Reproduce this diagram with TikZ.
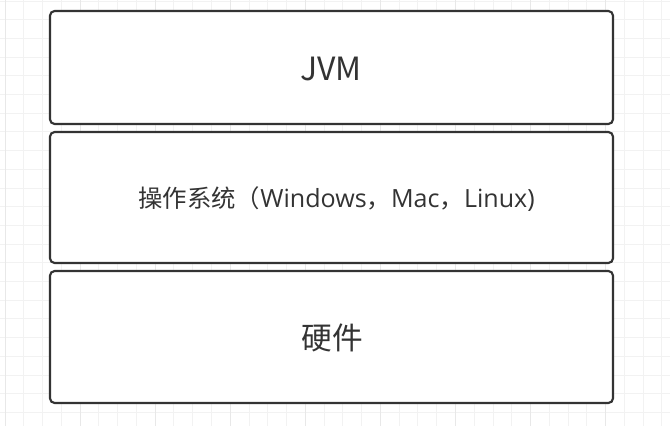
\documentclass[tikz,border=0pt]{standalone}
\usepackage{fontspec}
\setmainfont{Noto Sans}
\newfontfamily\cjk{Noto Sans CJK SC}
\newfontfamily\lat{Open Sans}
\definecolor{gridminor}{HTML}{F2F2F2}
\definecolor{gridmajor}{HTML}{E8E8E8}
\definecolor{ink}{HTML}{333333}
\begin{document}
\begin{tikzpicture}[x=0.75pt,y=-0.75pt,
  layerbox/.style={draw=ink,line width=1.6pt,rounded corners=3.5pt,fill=white},
  jvmtext/.style={text=ink,font=\cjk\fontsize{24}{28}\selectfont},
  hwtext/.style={text=ink,font=\cjk\fontsize{23}{28}\selectfont},
  midtext/.style={text=ink,inner sep=0pt}]
\useasboundingbox (0,0) rectangle (670,426);
\fill[white] (0,0) rectangle (670,426);
% grid
\foreach \i in {0,...,35} {
  \pgfmathsetmacro{\xx}{5+18.77*\i}
  \draw[gridminor,line width=0.75pt] (\xx,0) -- (\xx,426);
}
\foreach \i in {0,...,22} {
  \pgfmathsetmacro{\yy}{1+18.7*\i}
  \draw[gridminor,line width=0.75pt] (0,\yy) -- (670,\yy);
}
\foreach \i in {0,...,8} {
  \pgfmathsetmacro{\xx}{5+75.08*\i}
  \draw[gridmajor,line width=0.75pt] (\xx,0) -- (\xx,426);
}
% boxes
\draw[layerbox] (50,11) rectangle (613,124);
\draw[layerbox] (50,132) rectangle (613,263);
\draw[layerbox] (50,271) rectangle (613,403);
\node[jvmtext] (jvm) at (331,68.5) {JVM};
\node[midtext] (os) at (336.5,199) {\fontsize{18.3}{22}\selectfont\cjk 操作系统（{\lat\fontsize{18.8}{22}\selectfont Windows}，{\lat\fontsize{18.8}{22}\selectfont Mac}，{\lat\fontsize{18.8}{22}\selectfont Linux)}};
\node[hwtext] (hw) at (332,338) {硬件};
\end{tikzpicture}
\end{document}
